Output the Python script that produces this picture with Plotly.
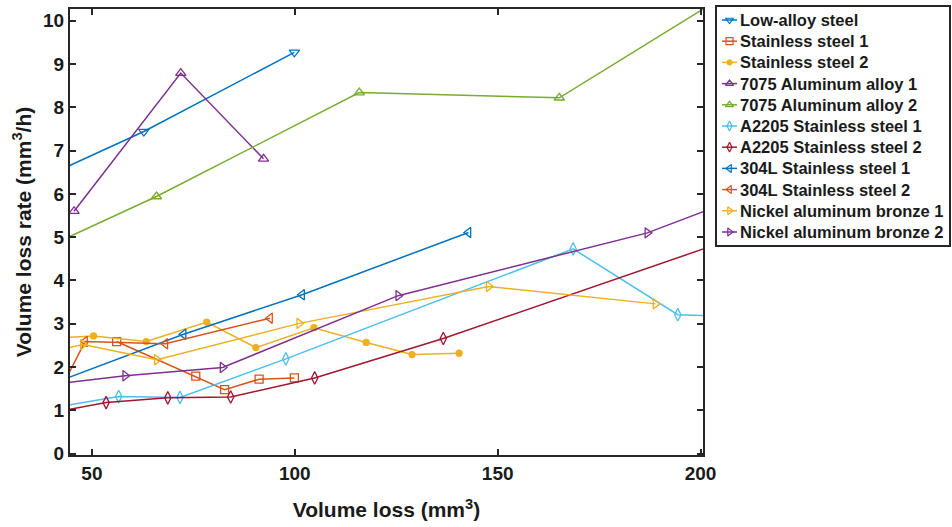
import plotly.graph_objects as go

# Volume loss (mm^3) and volume loss rate (mm^3/h) for each material.
# Points outside the axis limits continue the lines to the plot edges.
names = [
    "Low-alloy steel",
    "Stainless steel 1",
    "Stainless steel 2",
    "7075 Aluminum alloy 1",
    "7075 Aluminum alloy 2",
    "A2205 Stainless steel 1",
    "A2205 Stainless steel 2",
    "304L Stainless steel 1",
    "304L Stainless steel 2",
    "Nickel aluminum bronze 1",
    "Nickel aluminum bronze 2",
]

low_alloy_x = [40, 62.8, 99.9]
low_alloy_y = [6.46, 7.44, 9.27]

ss1_x = [56.1, 75.6, 82.7, 91.2, 99.9]
ss1_y = [2.59, 1.79, 1.48, 1.72, 1.75]

ss2_x = [40, 50.4, 63.4, 78.3, 90.4, 104.7, 117.6, 128.9, 140.5]
ss2_y = [2.67, 2.72, 2.59, 3.04, 2.45, 2.91, 2.57, 2.29, 2.32]

al1_x = [45.6, 71.9, 92.3]
al1_y = [5.60, 8.79, 6.81]

al2_x = [40, 65.9, 115.9, 165.2, 205]
al2_y = [4.82, 5.94, 8.34, 8.22, 10.52]

a2205_1_x = [40, 56.6, 71.7, 97.8, 168.6, 194.4, 210]
a2205_1_y = [1.06, 1.32, 1.30, 2.19, 4.73, 3.21, 3.17]

a2205_2_x = [40, 53.5, 68.7, 84.2, 104.9, 136.6, 210]
a2205_2_y = [0.95, 1.18, 1.29, 1.31, 1.75, 2.66, 5.03]

l304_1_x = [40, 72.6, 101.8, 142.8]
l304_1_y = [1.61, 2.76, 3.67, 5.11]

l304_2_x = [42, 48.3, 68.1, 93.9]
l304_2_y = [1.43, 2.59, 2.54, 3.13]

nab1_x = [40, 47.8, 66.0, 101.1, 147.8, 188.9]
nab1_y = [2.35, 2.52, 2.17, 3.01, 3.86, 3.46]

nab2_x = [40, 58.2, 82.2, 125.5, 186.9, 210]
nab2_y = [1.60, 1.80, 1.99, 3.65, 5.10, 5.92]

xs = [low_alloy_x, ss1_x, ss2_x, al1_x, al2_x, a2205_1_x, a2205_2_x,
      l304_1_x, l304_2_x, nab1_x, nab2_x]
ys = [low_alloy_y, ss1_y, ss2_y, al1_y, al2_y, a2205_1_y, a2205_2_y,
      l304_1_y, l304_2_y, nab1_y, nab2_y]

colors = ["#0072BD", "#D95319", "#EDB120", "#7E2F8E", "#77AC30", "#4DBEEE",
          "#A2142F", "#0072BD", "#D95319", "#EDB120", "#7E2F8E"]
symbols = ["triangle-down-open", "square-open", "circle", "triangle-up-open",
           "triangle-up-open", "diamond-tall-open", "diamond-tall-open",
           "triangle-left-open", "triangle-left-open", "triangle-right-open",
           "triangle-right-open"]
marker_sizes = [9, 8, 6, 9, 9, 9, 9, 9, 9, 9, 9]

x_ticks = [50, 100, 150, 200]
y_ticks = list(range(0, 11))

FONT = "Liberation Sans"
INK = "#1a1a1a"
AXC = "#262626"

fig = go.Figure()

# data series on the main axes
for name, x, y, c, s, ms in zip(names, xs, ys, colors, symbols, marker_sizes):
    fig.add_trace(go.Scatter(
        x=x, y=y, name=name, mode="lines+markers", showlegend=False,
        line=dict(color=c, width=1.5),
        marker=dict(symbol=s, size=ms, color=c, line=dict(color=c, width=1.3)),
        cliponaxis=True,
    ))

# compact legend box on its own pixel-scaled axes (x: 0..232, y: 0..238 downwards)
row0, row_step = 13, 21.2
for i, (name, c, s) in enumerate(zip(names, colors, symbols)):
    r = row0 + row_step * i
    size = 5 if s == "circle" else 7
    fig.add_trace(go.Scatter(
        x=[5, 20], y=[r, r], mode="lines", showlegend=False, hoverinfo="skip",
        line=dict(color=c, width=1.5), xaxis="x2", yaxis="y2",
    ))
    fig.add_trace(go.Scatter(
        x=[12.5], y=[r], mode="markers", showlegend=False, hoverinfo="skip",
        marker=dict(symbol=s, size=size, color=c, line=dict(color=c, width=1.2)),
        xaxis="x2", yaxis="y2",
    ))
    fig.add_annotation(
        x=20.5, y=r, xref="x2", yref="y2", text=name, showarrow=False,
        xanchor="left", yanchor="middle",
        font=dict(family=FONT, size=16.5, color=INK, weight="bold"),
    )

axis_common = dict(
    showline=True, linecolor=AXC, linewidth=2, mirror="ticks",
    ticks="inside", ticklen=6, tickwidth=1.5, tickcolor=AXC,
    showgrid=False, zeroline=False, automargin=False,
    tickfont=dict(family=FONT, size=19, color=INK, weight="bold"),
)

fig.update_layout(
    width=952, height=527,
    margin=dict(l=70, r=3, t=7, b=72),
    plot_bgcolor="white", paper_bgcolor="white",
    font=dict(family=FONT, color=INK),
    showlegend=False,
    xaxis=dict(
        domain=[0, 0.7201], range=[44.6, 200.6], tickvals=x_ticks,
        title=dict(text="<b>Volume loss (mm<sup>3</sup>)</b>",
                   font=dict(family=FONT, size=21, color=INK), standoff=20),
        **axis_common,
    ),
    yaxis=dict(
        domain=[0, 0.99554], range=[-0.03, 10.27], tickvals=y_ticks,
        title=dict(text="<b>Volume loss rate (mm<sup>3</sup>/h)</b>",
                   font=dict(family=FONT, size=21, color=INK), standoff=6),
        **axis_common,
    ),
    xaxis2=dict(
        domain=[0.7361, 1.0], range=[0, 232], anchor="y2",
        showline=True, mirror=True, linecolor=AXC, linewidth=1.5,
        showticklabels=False, ticks="", showgrid=False, zeroline=False,
        fixedrange=True, automargin=False,
    ),
    yaxis2=dict(
        domain=[0.46875, 1.0], range=[238, 0], anchor="x2",
        showline=True, mirror=True, linecolor=AXC, linewidth=1.5,
        showticklabels=False, ticks="", showgrid=False, zeroline=False,
        fixedrange=True, automargin=False,
    ),
)

fig.write_html("out.html")
